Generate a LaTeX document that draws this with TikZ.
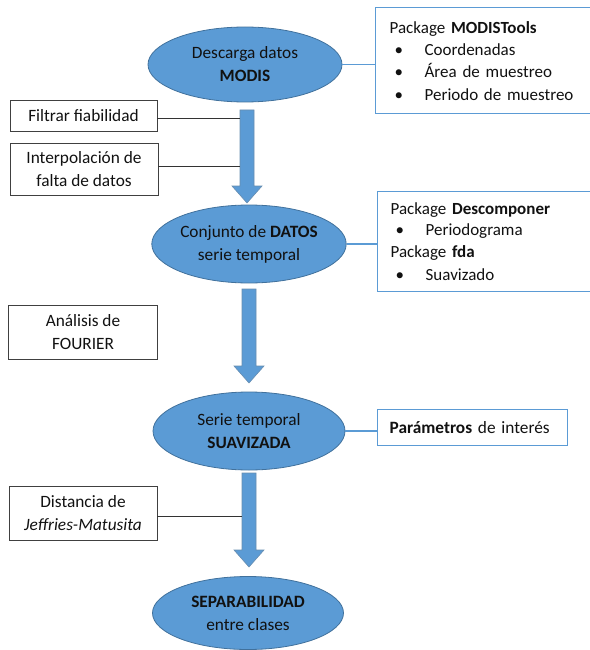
\documentclass[tikz,border=0pt]{standalone}
\usepackage{fontspec}
\setmainfont{Carlito}
\usetikzlibrary{shapes.geometric,calc}
\definecolor{ofblue}{HTML}{5B9BD5}
\definecolor{ofdark}{HTML}{41719C}
\definecolor{txt}{HTML}{111111}
\newcommand{\bul}{\hspace*{5pt}\makebox[30pt][l]{\textbullet}}
\begin{document}
\begin{tikzpicture}[x=1pt,y=-1pt,
  font=\fontsize{17.3}{23}\selectfont, text=txt,
  oval/.style={ellipse, draw=ofdark, line width=0.8pt, fill=ofblue, inner sep=0pt, align=center},
  lbox/.style={rectangle, draw=black!75, line width=0.6pt, align=center, inner sep=0pt},
  rbox/.style={rectangle, draw=ofblue, line width=1.3pt, align=left, anchor=north west, inner ysep=0pt},
  lconn/.style={draw=black!80, line width=0.6pt},
  rconn/.style={draw=ofblue, line width=1.1pt},
  barrow/.style={fill=ofblue, draw=ofdark!80, line width=0.6pt}
]
\useasboundingbox (0,0) rectangle (589,650);

% ovals
\node[oval, minimum width=194pt, minimum height=75pt] (e1) at (245,64.5) {Descarga datos\\\textbf{MODIS}};
\node[oval, minimum width=192pt, minimum height=78pt] (e2) at (249,244) {Conjunto de \textbf{DATOS}\\serie temporal};
\node[oval, minimum width=192pt, minimum height=78pt] (e3) at (249,431) {Serie temporal\\\textbf{SUAVIZADA}};
\node[oval, minimum width=191pt, minimum height=73pt] (e4) at (248,613) {\textbf{SEPARABILIDAD}\\entre clases};

% right info boxes
\node[rbox, inner xsep=14pt, text width=192pt, minimum height=106pt] (b1) at (375,7)
  {\fontsize{17}{22}\selectfont Package \textbf{MODISTools}\\
   \bul Coordenadas\\
   \bul Área de muestreo\\
   \bul Periodo de muestreo};
\node[rbox, inner xsep=13pt, text width=192pt, minimum height=100pt] (b2) at (377,191)
  {\fontsize{17}{21.5}\selectfont Package \textbf{Descomponer}\\
   \bul Periodograma\\
   Package \textbf{fda}\\
   \bul Suavizado};
\node[rbox, inner xsep=12pt, text width=166pt, minimum height=36pt] (b3) at (377,409)
  {\textbf{Parámetros} de interés};

\draw[rconn] (e1.east) -- (e1.east -| b1.west);
\draw[rconn] (e2.east) -- (e2.east -| b2.west);
\draw[rconn] (e3.east) -- (e3.east -| b3.west);

% left boxes
\node[lbox, minimum width=147pt, minimum height=31pt] (l1) at (83.5,115.5) {Filtrar fiabilidad};
\node[lbox, minimum width=148pt, minimum height=52pt] (l2) at (84,169) {Interpolación de\\falta de datos};
\node[lbox, minimum width=149pt, minimum height=54pt] (l3) at (83,332) {Análisis de\\FOURIER};
\node[lbox, minimum width=148pt, minimum height=54pt] (l4) at (83,513) {Distancia de\\\textit{Jeffries-Matusita}};

% block arrows
\coordinate (a1s) at (247,110); \coordinate (a1t) at (247,203);
\coordinate (a2s) at (249,289); \coordinate (a2t) at (249,383);
\coordinate (a3s) at (249,473); \coordinate (a3t) at (249,567);
\foreach \s/\t in {a1s/a1t,a2s/a2t,a3s/a3t}{
  \draw[barrow] ($(\s)+(-7,0)$) -- ($(\s)+(7,0)$) -- ($(\t)+(7,-17)$) -- ($(\t)+(15,-17)$)
     -- (\t) -- ($(\t)+(-15,-17)$) -- ($(\t)+(-7,-17)$) -- cycle;
}

\draw[lconn] (l1.east |- 0,118) -- (240,118);
\draw[lconn] (l2.east |- 0,166) -- (240,166);
\draw[lconn] (l4.east |- 0,516) -- (242,516);
\end{tikzpicture}
\end{document}
